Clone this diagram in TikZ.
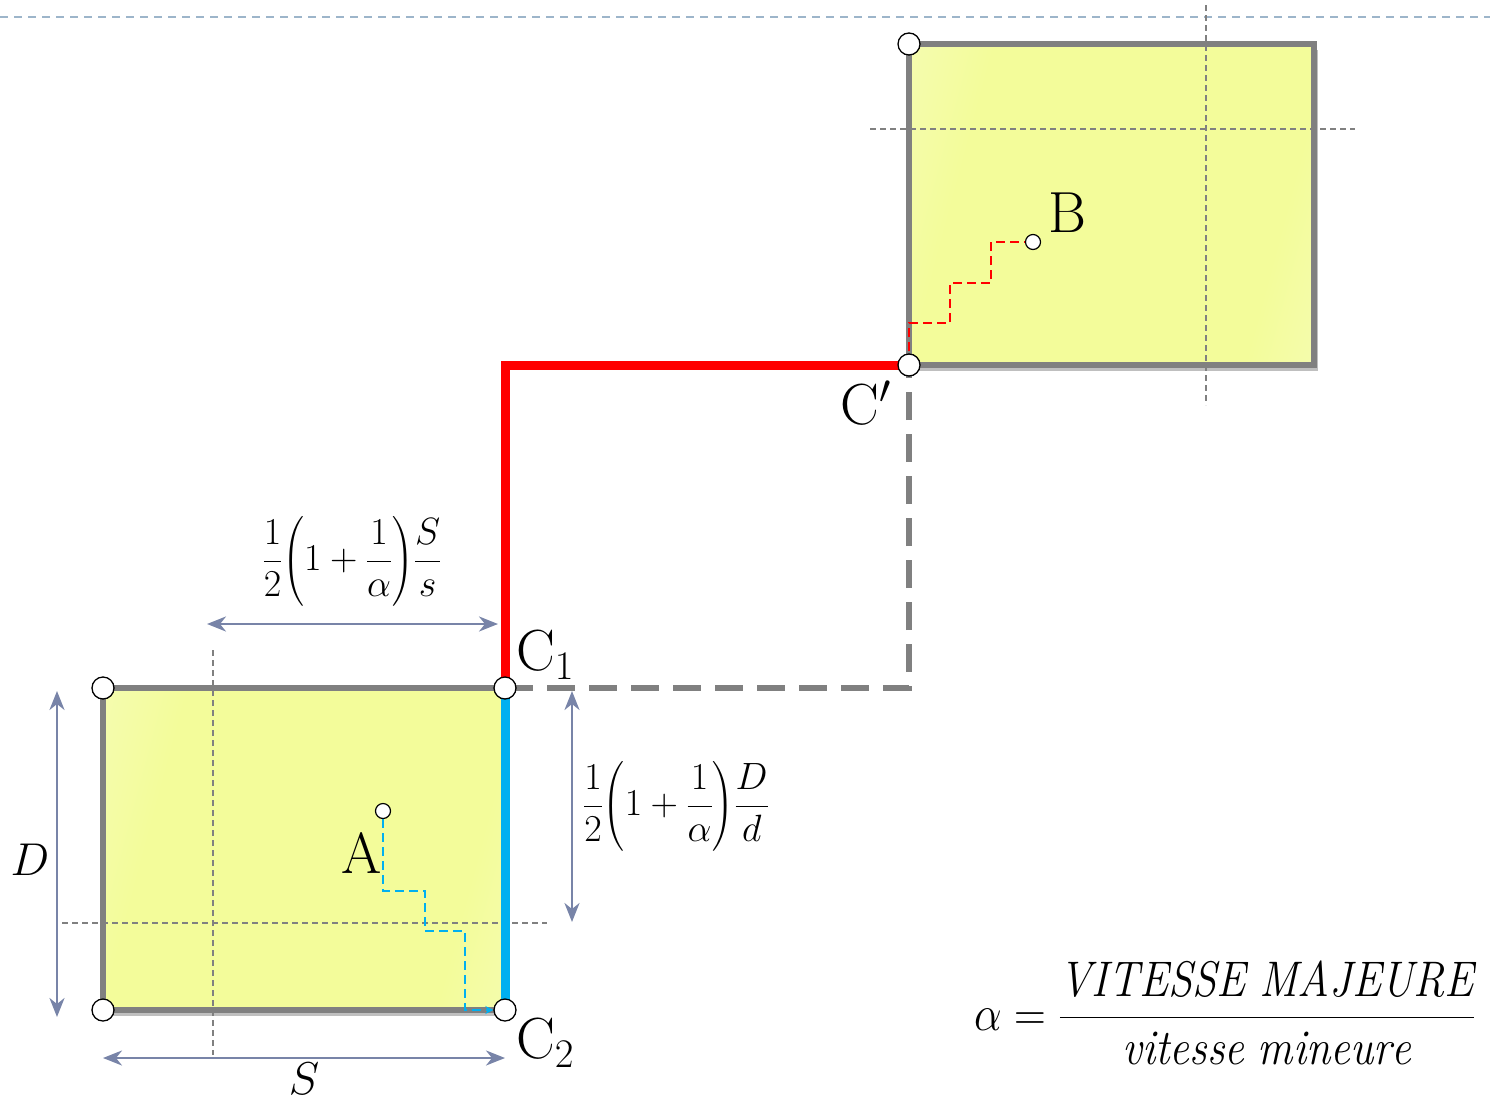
\RequirePackage{fix-cm}
\documentclass[tikz,border=0pt]{standalone}
\usepackage{amsmath}
\usepackage{fontspec}
\usetikzlibrary{arrows.meta,shadows,calc}
\definecolor{boxgray}{HTML}{808080}
\definecolor{redl}{HTML}{FF0000}
\definecolor{bluel}{HTML}{00B0F0}
\definecolor{dimc}{HTML}{7884A8}
\definecolor{topc}{HTML}{9DB5CA}
\definecolor{yelc}{HTML}{F3FC9A}
\definecolor{yell}{HTML}{F8FDD4}
\pgfdeclarehorizontalshading{boxshade}{100bp}{color(0bp)=(yell); color(30bp)=(yelc); color(72bp)=(yelc); color(100bp)=(yell)}
\pgfdeclarelayer{boxes}
\pgfdeclarelayer{lines}
\pgfsetlayers{boxes,lines,main}
\newcommand\labfont{\fontsize{58}{60}\selectfont}
\newcommand\formfont{\fontsize{38}{42}\selectfont}
\newcommand\alphafont{\fontsize{50}{54}\selectfont}
\begin{document}
\begin{tikzpicture}[x=1pt,y=-1pt,
  region/.style={draw=boxgray,line width=6pt,line join=miter,
    shading=boxshade,shading angle=-15,
    drop shadow={shadow xshift=4pt,shadow yshift=-6pt,opacity=0.25,fill=black}},
  corner/.style={circle,draw=black,line width=1.3pt,fill=white,minimum size=22pt,inner sep=0pt},
  dot/.style={circle,draw=black,line width=1.2pt,fill=white,minimum size=15pt,inner sep=0pt},
  axisline/.style={draw=boxgray,line width=1.4pt,dash pattern=on 6pt off 4pt},
  thickred/.style={draw=redl,line width=9pt,line join=miter},
  thickblue/.style={draw=bluel,line width=9pt},
  graydash/.style={draw=boxgray,line width=6pt,dash pattern=on 28pt off 14pt},
  stairblue/.style={draw=bluel,line width=2.2pt,dash pattern=on 9pt off 5pt},
  stairred/.style={draw=redl,line width=2.2pt,dash pattern=on 9pt off 5pt},
  dim/.style={draw=dimc,line width=2.5pt,{Stealth[length=19pt,width=15pt,inset=6pt]}-{Stealth[length=19pt,width=15pt,inset=6pt]}},
  lab/.style={inner sep=0pt,font=\labfont},
  form/.style={inner sep=0pt,font=\formfont},
]
\useasboundingbox (0,0) rectangle (1490,1103);

% corner coordinates
\coordinate (atl) at (103,688);
\coordinate (abr) at (505,1010);
\coordinate (btl) at (909,44);
\coordinate (bbr) at (1314,365);
\coordinate (c1p) at (505,688);
\coordinate (c2p) at (505,1010);
\coordinate (ablp) at (103,1010);
\coordinate (cpp) at (909,365);

% circle nodes
\node[corner] (a1) at (atl) {};
\node[corner] (a3) at (ablp) {};
\node[corner] (c1) at (c1p) {};
\node[corner] (c2) at (c2p) {};
\node[corner] (b1) at (btl) {};
\node[corner] (cp) at (cpp) {};
\node[dot] (adot) at (383,811) {};
\node[dot] (bdot) at (1033,242) {};

% stair coordinates
\coordinate (s1) at (383,891);
\coordinate (s2) at (425,891);
\coordinate (s3) at (425,931);
\coordinate (s4) at (465,931);
\coordinate (s5) at (465,1010);
\coordinate (r1) at (909,323);
\coordinate (r2) at (950,323);
\coordinate (r3) at (950,283);
\coordinate (r4) at (991,283);
\coordinate (r5) at (991,242);

% axis / dimension coordinates
\coordinate (topl) at (0,17);
\coordinate (topr) at (1490,17);
\coordinate (avt) at (213,650);
\coordinate (avb) at (213,1055);
\coordinate (ahl) at (62,923);
\coordinate (ahr) at (547,923);
\coordinate (bvt) at (1206,5);
\coordinate (bvb) at (1206,405);
\coordinate (bhl) at (870,129);
\coordinate (bhr) at (1355,129);
\coordinate (dtl) at (207,624);
\coordinate (dtr) at (498,624);
\coordinate (drt) at (572,691);
\coordinate (drb) at (572,922);
\coordinate (dlt) at (57,691);
\coordinate (dlb) at (57,1017);
\coordinate (dbl) at (103,1058);
\coordinate (dbr) at (505,1058);

\begin{pgfonlayer}{boxes}
  \draw[topc,line width=2.2pt,dash pattern=on 8pt off 6pt] (topl) -- (topr);
  \path[region] (atl) rectangle (abr);
  \path[region] (btl) rectangle (bbr);
  \draw[axisline] (avt) -- (avb);
  \draw[axisline] (ahl) -- (ahr);
  \draw[axisline] (bvt) -- (bvb);
  \draw[axisline] (bhl) -- (bhr);
\end{pgfonlayer}

\begin{pgfonlayer}{lines}
  \draw[graydash] (c1.center) -| (cp.center);
  \draw[thickblue] (c1.center) -- (c2.center);
  \draw[thickred] (c1.center) |- (cp.center);
  \draw[stairblue,-{Stealth[length=8pt,width=8pt]}] (adot) -- (s1) -- (s2) -- (s3) -- (s4) -- (s5) -- (c2);
  \draw[stairred] (cp.center) -- (r1) -- (r2) -- (r3) -- (r4) -- (r5) -- (bdot);
  \draw[dim] (dtl) -- (dtr);
  \draw[dim] (drt) -- (drb);
  \draw[dim] (dlt) -- (dlb);
  \draw[dim] (dbl) -- (dbr);
\end{pgfonlayer}

% labels
\node[lab] (lA) at (362,853) {A};
\node[lab] (lB) at (1067,213) {B};
\node[lab] (lCp) at (866,403) {C$'$};
\node[lab] (lC1) at (545,655) {C$_1$};
\node[lab] (lC2) at (545,1043) {C$_2$};
\node[inner sep=0pt,font=\fontsize{46}{48}\selectfont] (lD) at (30,860) {$D$};
\node[inner sep=0pt,font=\fontsize{46}{48}\selectfont] (lS) at (304,1079) {$S$};
\node[form] (fS) at (352,561) {$\dfrac{1}{2}{\left(1+\dfrac{1}{\alpha}\right)}\dfrac{S}{s}$};
\node[form] (fD) at (676,806) {$\dfrac{1}{2}{\left(1+\dfrac{1}{\alpha}\right)}\dfrac{D}{d}$};
\node[inner sep=0pt,font=\alphafont] (falpha) at (1225,1013) {\scalebox{0.88}[1]{$\alpha=\dfrac{\mathit{VITESSE\ MAJEURE}}{\mathit{vitesse\ mineure}}$}};
\end{tikzpicture}
\end{document}
